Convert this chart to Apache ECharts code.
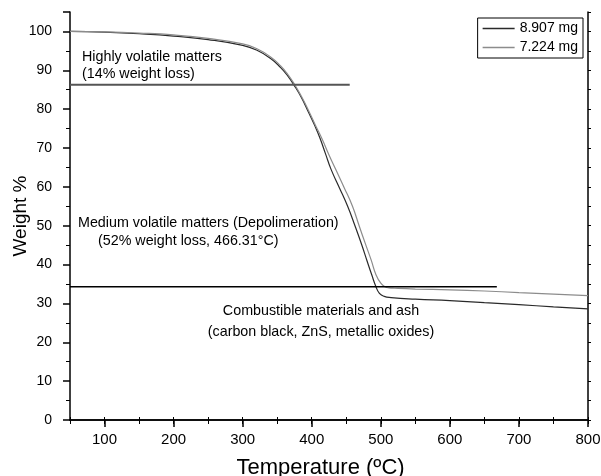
<!DOCTYPE html>
<html>
<head>
<meta charset="utf-8">
<script src="https://cdn.jsdelivr.net/npm/echarts@6/dist/echarts.min.js"></script>
<style>
  html, body { margin: 0; padding: 0; background: #fff; }
  #tga { width: 601px; height: 476px; }
</style>
</head>
<body>
<div id="tga"></div>
<script>
// sample 8.907 mg
var temp1 = [50, 100, 150, 200, 250, 300, 320, 340, 355, 365, 375, 385, 395, 405, 412, 420, 428, 440, 452, 463, 472, 480, 487, 493, 498, 505, 515, 550, 600, 650, 700, 750, 800];
var weight1 = [100, 99.8, 99.4, 98.8, 97.9, 96.4, 95.2, 93.1, 90.7, 88.6, 86.0, 83.0, 79.3, 75.5, 72.5, 68.5, 64.5, 59.8, 55.0, 49.8, 45.3, 41.0, 37.3, 34.3, 32.6, 31.8, 31.5, 31.1, 30.7, 30.2, 29.7, 29.1, 28.6];
// sample 7.224 mg
var temp2 = [50, 100, 150, 200, 250, 300, 320, 340, 355, 365, 375, 385, 395, 405, 415, 425, 435, 447, 459, 469, 478, 486, 493, 500, 506, 512, 520, 550, 600, 650, 700, 750, 800];
var weight2 = [100, 99.9, 99.6, 99.1, 98.2, 96.8, 95.6, 93.5, 91.1, 89.0, 86.4, 83.3, 79.8, 76.0, 72.3, 68.2, 64.4, 59.8, 55.0, 49.8, 45.2, 41.2, 37.4, 35.2, 34.3, 34.0, 33.9, 33.7, 33.5, 33.2, 32.8, 32.4, 32.0];
// stage limits (horizontal lines)
var stage1 = [[50, 86.3], [455, 86.3]];
var stage2 = [[50, 34.3], [668, 34.3]];
var xMajor = [100, 200, 300, 400, 500, 600, 700, 800];
var seriesNames = ['8.907 mg', '7.224 mg'];

function pairs(xs, ys) {
    var out = [];
    for (var i = 0; i < xs.length; i++) {
        out.push([xs[i], ys[i]]);
    }
    return out;
}

var font = "'Liberation Sans', Arial, sans-serif";
var chart = echarts.init(document.getElementById('tga'));

var option = {
    animation: false,
    backgroundColor: '#fff',
    textStyle: { fontFamily: font, color: '#000' },
    grid: { left: 70, right: 13, top: 12, bottom: 56, outerBoundsMode: 'none', containLabel: false },
    legend: {
        data: seriesNames,
        orient: 'vertical',
        right: 18,
        top: 18,
        icon: 'rect',
        borderColor: '#000',
        borderWidth: 1,
        borderRadius: 0,
        padding: [3, 5, 3, 5],
        itemGap: 4,
        itemWidth: 32,
        itemHeight: 1.3,
        textStyle: { fontSize: 14, fontFamily: font, color: '#000', lineHeight: 15 }
    },
    xAxis: [
        {   // main bottom axis
            type: 'value', min: 50, max: 800, position: 'bottom',
            name: 'Temperature (ºC)', nameLocation: 'middle', nameGap: 37, nameMoveOverlap: false,
            nameTextStyle: { fontSize: 22, fontFamily: font, color: '#000', padding: [0, 17, 0, 0] },
            axisLine: { lineStyle: { color: '#000', width: 1.5 } },
            axisTick: { length: 7, customValues: xMajor, lineStyle: { color: '#000', width: 1.5 } },
            axisLabel: { customValues: xMajor, fontSize: 15, fontFamily: font, color: '#000', margin: 12 },
            splitLine: { show: false }
        },
        {   // top frame
            type: 'value', min: 50, max: 800, interval: 50, position: 'top',
            axisLine: { lineStyle: { color: '#000', width: 1.5 } },
            axisTick: { length: 3, lineStyle: { color: '#000', width: 1 } },
            axisLabel: { show: false },
            splitLine: { show: false }
        },
        {   // bottom minor ticks
            type: 'value', min: 50, max: 800, interval: 50, position: 'bottom',
            axisLine: { show: false },
            axisTick: { length: 4, lineStyle: { color: '#000', width: 1 } },
            axisLabel: { show: false },
            splitLine: { show: false }
        }
    ],
    yAxis: [
        {
            type: 'value', min: 0, max: 105, interval: 10, position: 'left',
            name: 'Weight %', nameLocation: 'middle', nameGap: 40, nameMoveOverlap: false,
            nameTextStyle: { fontSize: 19, fontFamily: font, color: '#000' },
            axisLine: { lineStyle: { color: '#000', width: 1.5 } },
            axisTick: { length: 7, lineStyle: { color: '#000', width: 1.5 } },
            minorTick: { show: true, splitNumber: 2, length: 4, lineStyle: { color: '#000', width: 1 } },
            axisLabel: {
                fontSize: 14, fontFamily: font, color: '#000', margin: 18,
                formatter: function (v) { return v > 100 ? '' : String(v); }
            },
            splitLine: { show: false }
        },
        {
            type: 'value', min: 0, max: 105, interval: 5, position: 'right',
            axisLine: { lineStyle: { color: '#000', width: 1.5 } },
            axisTick: { length: 3, lineStyle: { color: '#000', width: 1 } },
            axisLabel: { show: false },
            splitLine: { show: false }
        }
    ],
    series: [
        {
            name: seriesNames[0], type: 'line', symbol: 'none',
            smooth: 0.5,
            lineStyle: { color: '#2a2a2a', width: 1.2 },
            itemStyle: { color: '#2a2a2a' },
            data: pairs(temp1, weight1)
        },
        {
            name: seriesNames[1], type: 'line', symbol: 'none',
            smooth: 0.5,
            lineStyle: { color: '#8c8c8c', width: 1.2 },
            itemStyle: { color: '#8c8c8c' },
            data: pairs(temp2, weight2)
        },
        {
            name: 'stage1', type: 'line', symbol: 'none',
            lineStyle: { color: '#555', width: 2 },
            data: stage1
        },
        {
            name: 'stage2', type: 'line', symbol: 'none',
            lineStyle: { color: '#000', width: 1.5 },
            data: stage2
        }
    ],
    graphic: [
        { type: 'text', left: 82, top: 49, style: { text: 'Highly volatile matters\n(14% weight loss)', font: '14.3px ' + font, fill: '#000', lineHeight: 17 } },
        { type: 'text', left: 78, top: 216, style: { text: 'Medium volatile matters (Depolimeration)', font: '14.3px ' + font, fill: '#000' } },
        { type: 'text', left: 98, top: 234, style: { text: '(52% weight loss, 466.31°C)', font: '14.3px ' + font, fill: '#000' } },
        { type: 'text', x: 321, y: 304, style: { text: 'Combustible materials and ash', font: '14.3px ' + font, fill: '#000', align: 'center' } },
        { type: 'text', x: 321, y: 325, style: { text: '(carbon black, ZnS, metallic oxides)', font: '14.3px ' + font, fill: '#000', align: 'center' } }
    ]
};

chart.setOption(option);
</script>
</body>
</html>
